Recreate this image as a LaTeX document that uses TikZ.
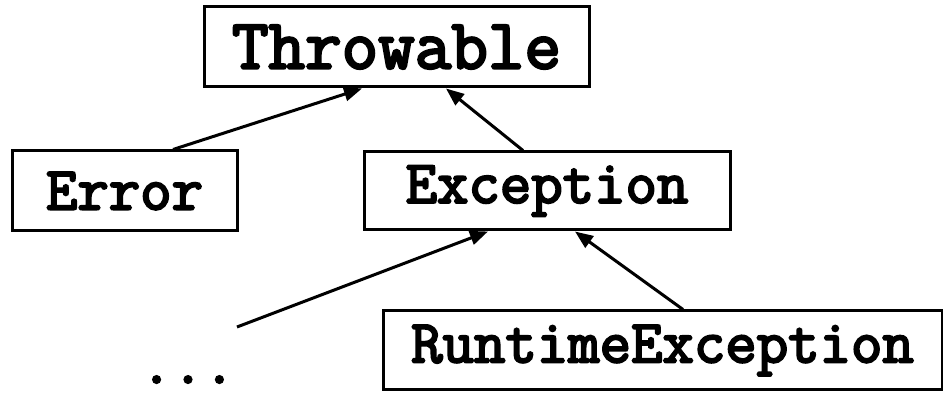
\documentclass[tikz,border=0pt]{standalone}
\usepackage{fontspec}
\newfontfamily\javafont{Latin Modern Mono}[AutoFakeBold=3.5]
\usetikzlibrary{calc,arrows.meta,positioning}

\tikzset{
  klasse/.style={draw, line width=1.5pt, inner sep=0pt, font=\javafont\bfseries\fontsize{30.5}{34}\selectfont},
  pijl/.style={line width=1.5pt, -{Triangle[length=9pt,width=7pt]}}
}

\begin{document}
\begin{tikzpicture}[x=0.5pt,y=-0.5pt]
	\useasboundingbox (0,0) rectangle (943,399);

	% Klassen
	\node[klasse, minimum width=192.5pt, minimum height=40pt, font=\javafont\bfseries\fontsize{35.5}{40}\selectfont] (thr) at (396.5,47) {Throwable};
	\node[klasse, minimum width=112.5pt, minimum height=40pt] (err) at (124.5,191) {Error};
	\node[klasse, minimum width=183pt, minimum height=39pt] (exc) at (547,191) {Exception};
	\node[klasse, minimum width=279.5pt, minimum height=39.5pt] (rte) at (662.5,350.5) {RuntimeException};
	\node[klasse, draw=none, anchor=base] (dots) at (188,383) {...};

	% Overerving
	\coordinate (los) at (237,327);
	\draw[pijl] ($(err.north)+(48.5,0)$) -- ($(thr.south)+(-34.5,0)$);
	\draw[pijl] ($(exc.north)+(-24,0)$) -- ($(thr.south)+(49.5,0)$);
	\draw[pijl] (los) -- ($(exc.south)+(-59,0)$);
	\draw[pijl] ($(rte.north)+(20.5,0)$) -- ($(exc.south)+(28,0)$);

\end{tikzpicture}
\end{document}
